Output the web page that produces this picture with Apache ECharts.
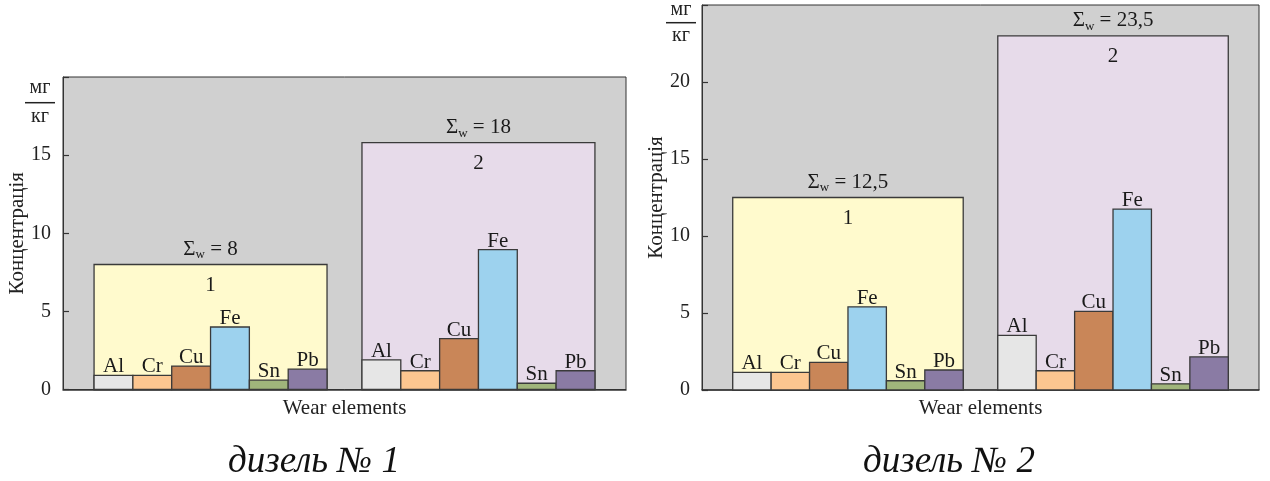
<!DOCTYPE html>
<html><head><meta charset="utf-8">
<script src="https://cdn.jsdelivr.net/npm/echarts@6/dist/echarts.min.js"></script>
<style>html,body{margin:0;padding:0;background:#fff}#c{width:1270px;height:481px}</style>
</head><body><div id="c"></div>
<script>
// ---- data ----
const elements = ['Al', 'Cr', 'Cu', 'Fe', 'Sn', 'Pb'];
const groupNames = ['1', '2'];
const diesel1Group1 = [0.9, 0.9, 1.5, 4.0, 0.6, 1.3];
const diesel1Group2 = [1.9, 1.2, 3.25, 8.95, 0.4, 1.2];
const diesel2Group1 = [1.15, 1.15, 1.8, 5.4, 0.6, 1.3];
const diesel2Group2 = [3.55, 1.25, 5.1, 11.75, 0.4, 2.15];
const diesel1BoxHeights = [8, 15.8];
const diesel2BoxHeights = [12.5, 23.0];
const diesel1Sums = ['8', '18'];
const diesel2Sums = ['12,5', '23,5'];
const diesel1Ticks = [0, 5, 10, 15];
const diesel2Ticks = [0, 5, 10, 15, 20];
const diesel1Max = 20;
const diesel2Max = 25;
const captions = ['дизель № 1', 'дизель № 2'];
const axisTitle = 'Концентрація';
const xTitle = 'Wear elements';
const unitTop = 'мг';
const unitBottom = 'кг';

// ---- styles / layout ----
const barColors = ['#e6e6e6', '#fcc690', '#c98658', '#9dd2ee', '#a0b57b', '#8a7ba4'];
const boxColors = ['#fffacd', '#e7dbea'];
const SERIF = '"Liberation Serif", "DejaVu Serif", serif';
const LABEL_SIZE = 21;
const EDGE = 0.8, GAP = 0.9;
const N = elements.length;
const X_MAX = 2 * EDGE + 2 * N + GAP;
function groupStart(g) { return EDGE + g * (N + GAP); }

function barData(groups) {
  const out = [];
  groups.forEach((vals, g) => vals.forEach((v, i) => out.push([groupStart(g) + i + 0.5, v, i])));
  return out;
}
function boxData(heights) {
  return heights.map((h, g) => [groupStart(g), groupStart(g) + N, h, g]);
}

function renderBar(params, api) {
  const x = api.value(0), v = api.value(1), k = api.value(2);
  const a = api.coord([x - 0.5, v]), b = api.coord([x + 0.5, 0]);
  return {
    type: 'group', children: [
      { type: 'rect', shape: { x: a[0], y: a[1], width: b[0] - a[0], height: b[1] - a[1] },
        style: { fill: barColors[k], stroke: '#3a3a3a', lineWidth: 1.3 } },
      { type: 'text', x: (a[0] + b[0]) / 2, y: a[1] + 2,
        style: { text: elements[k], align: 'center', verticalAlign: 'bottom', font: LABEL_SIZE + 'px ' + SERIF, fill: '#1a1a1a' } }
    ]
  };
}
function makeBoxRenderer(sums) {
  return function (params, api) {
    const x0 = api.value(0), x1 = api.value(1), h = api.value(2), g = api.value(3);
    const a = api.coord([x0, h]), b = api.coord([x1, 0]);
    const cx = (a[0] + b[0]) / 2;
    return {
      type: 'group', children: [
        { type: 'rect', shape: { x: a[0], y: a[1], width: b[0] - a[0], height: b[1] - a[1] },
          style: { fill: boxColors[g], stroke: '#3a3a3a', lineWidth: 1.3 } },
        { type: 'text', x: cx, y: a[1] + 21,
          style: { text: groupNames[g], align: 'center', verticalAlign: 'middle', font: LABEL_SIZE + 'px ' + SERIF, fill: '#1a1a1a' } },
        { type: 'text', x: cx, y: a[1] - 15,
          style: {
            text: '{s|Σ}{w|w}{t| = ' + sums[g] + '}', align: 'center', verticalAlign: 'middle',
            rich: {
              s: { fontSize: LABEL_SIZE, fontFamily: SERIF, fill: '#1a1a1a', lineHeight: 24, verticalAlign: 'middle' },
              w: { fontSize: 13, fontFamily: SERIF, fill: '#1a1a1a', lineHeight: 12, verticalAlign: 'bottom' },
              t: { fontSize: LABEL_SIZE, fontFamily: SERIF, fill: '#1a1a1a', lineHeight: 24, verticalAlign: 'middle' }
            }
          } }
      ]
    };
  };
}

const grids = [
  { left: 63, top: 77, width: 563, height: 312.5 },
  { left: 702, top: 5, width: 557, height: 385 }
].map(g => Object.assign(g, { show: true, backgroundColor: '#d0d0d0', borderColor: '#333', borderWidth: 1, containLabel: false }));

function xAxisFor(i) {
  return {
    gridIndex: i, type: 'value', min: 0, max: X_MAX,
    axisLine: { show: true, lineStyle: { color: '#333', width: 1.5 } },
    axisTick: { show: false }, axisLabel: { show: false }, splitLine: { show: false },
    name: xTitle, nameLocation: 'middle', nameGap: 8, nameMoveOverlap: false,
    nameTextStyle: { fontFamily: SERIF, fontSize: 21, color: '#222', verticalAlign: 'top' }
  };
}
function yAxisFor(i, max, ticks) {
  return {
    gridIndex: i, type: 'value', min: 0, max: max, interval: 5,
    axisLine: { show: true, lineStyle: { color: '#333', width: 1 } },
    axisTick: { show: true, inside: true, length: 6, lineStyle: { color: '#333', width: 1.2 } },
    splitLine: { show: false },
    axisLabel: { margin: 12, fontFamily: SERIF, fontSize: 20, color: '#222',
      formatter: v => ticks.includes(v) ? String(v) : '' },
    name: axisTitle, nameLocation: 'middle', nameGap: 35, nameMoveOverlap: false, nameRotate: 90,
    nameTextStyle: { fontFamily: SERIF, fontSize: 21, color: '#222' }
  };
}

function unitGraphic(cx, topY, lineY, botY) {
  return [
    { type: 'text', x: cx, y: topY, style: { text: unitTop, align: 'center', verticalAlign: 'middle', font: '20px ' + SERIF, fill: '#222' } },
    { type: 'line', shape: { x1: cx - 15, y1: lineY, x2: cx + 15, y2: lineY }, style: { stroke: '#222', lineWidth: 1.5 } },
    { type: 'text', x: cx, y: botY, style: { text: unitBottom, align: 'center', verticalAlign: 'middle', font: '20px ' + SERIF, fill: '#222' } }
  ];
}

const chart = echarts.init(document.getElementById('c'), null, { renderer: 'canvas' });
chart.setOption({
  backgroundColor: '#fff',
  animation: false,
  grid: grids,
  xAxis: [xAxisFor(0), xAxisFor(1)],
  yAxis: [yAxisFor(0, diesel1Max, diesel1Ticks), yAxisFor(1, diesel2Max, diesel2Ticks)],
  series: [
    { type: 'custom', xAxisIndex: 0, yAxisIndex: 0, renderItem: makeBoxRenderer(diesel1Sums), data: boxData(diesel1BoxHeights), encode: { x: [0, 1], y: 2 }, z: 1, clip: false },
    { type: 'custom', xAxisIndex: 0, yAxisIndex: 0, renderItem: renderBar, data: barData([diesel1Group1, diesel1Group2]), encode: { x: 0, y: 1 }, z: 2, clip: false },
    { type: 'custom', xAxisIndex: 1, yAxisIndex: 1, renderItem: makeBoxRenderer(diesel2Sums), data: boxData(diesel2BoxHeights), encode: { x: [0, 1], y: 2 }, z: 1, clip: false },
    { type: 'custom', xAxisIndex: 1, yAxisIndex: 1, renderItem: renderBar, data: barData([diesel2Group1, diesel2Group2]), encode: { x: 0, y: 1 }, z: 2, clip: false }
  ],
  graphic: [
    ...unitGraphic(40, 88, 102.7, 117),
    ...unitGraphic(681, 10, 22.7, 36),
    { type: 'text', x: 314, y: 462, style: { text: captions[0], align: 'center', verticalAlign: 'middle', font: 'italic 37px ' + SERIF, fill: '#111' } },
    { type: 'text', x: 949, y: 462, style: { text: captions[1], align: 'center', verticalAlign: 'middle', font: 'italic 37px ' + SERIF, fill: '#111' } }
  ]
});
</script></body></html>
